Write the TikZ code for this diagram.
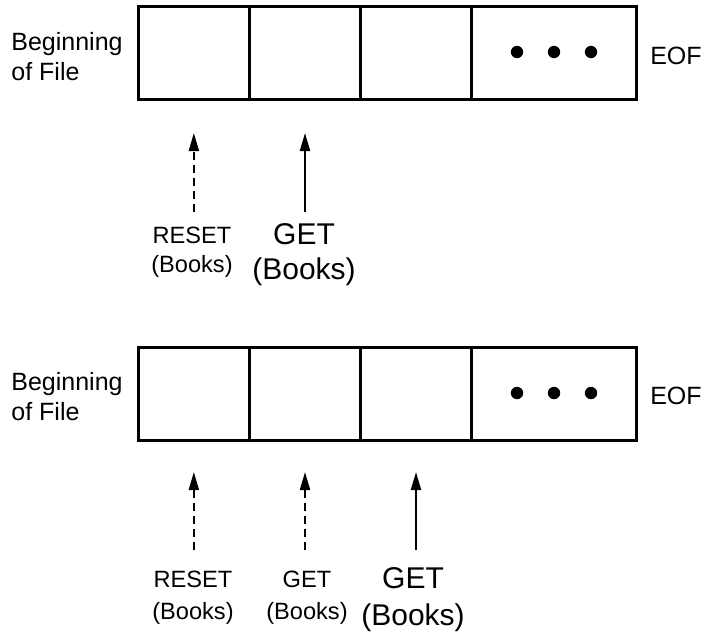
\documentclass[tikz,border=0pt]{standalone}
\usepackage{fontspec}
\setmainfont{Liberation Sans}
\usetikzlibrary{arrows.meta}
\tikzset{
  cell/.style={draw, line width=1.5pt, minimum height=46.5pt, inner sep=0pt, anchor=north west},
  side/.style={inner sep=0pt, font=\fontsize{12.5}{15}\selectfont},
  small/.style={inner sep=0pt, align=center, font=\fontsize{11.8}{14.5}\selectfont},
  smallb/.style={small, font=\fontsize{11.8}{16}\selectfont},
  large/.style={inner sep=0pt, align=center, font=\fontsize{15}{17.5}\selectfont},
  largeb/.style={large, font=\fontsize{15}{18.5}\selectfont},
  ptr/.style={line width=1pt, -{Triangle[length=9pt,width=5pt]}},
  dptr/.style={ptr, dash pattern=on 4pt off 2.5pt},
  dot/.style={circle, fill, inner sep=0pt, minimum size=6.2pt},
}
\begin{document}
\begin{tikzpicture}[x=0.5pt, y=-0.5pt]
\useasboundingbox (0,0) rectangle (706,632);
% ---------- top file ----------
\node[cell, minimum width=55.65pt] (a1) at (136.7,5) {};
\node[cell, minimum width=55.5pt] (a2) at (248,5) {};
\node[cell, minimum width=55.5pt] (a3) at (359,5) {};
\node[cell, minimum width=82.5pt] (a4) at (470,5) {};
\node[dot] (ad1) at (517,52) {};
\node[dot] (ad2) at (554,52) {};
\node[dot] (ad3) at (591,52) {};
\node[side, align=left, anchor=west] (abeg) at (11,57) {Beginning\\of File};
\node[side] (aeof) at (676,56) {EOF};
\node[small] (al1) at (192,252) {RESET\\(Books)};
\node[large] (al2) at (304,255) {GET\\(Books)};
\coordinate (at1) at (192,212);
\coordinate (at2) at (304,212);
\draw[dptr] (a1.south |- at1) -- ([yshift=-16pt]a1.south);
\draw[ptr] (a2.south |- at2) -- ([yshift=-16pt]a2.south);
% ---------- bottom file ----------
\node[cell, minimum width=55.65pt] (b1) at (136.7,346) {};
\node[cell, minimum width=55.5pt] (b2) at (248,346) {};
\node[cell, minimum width=55.5pt] (b3) at (359,346) {};
\node[cell, minimum width=82.5pt] (b4) at (470,346) {};
\node[dot] (bd1) at (517,393) {};
\node[dot] (bd2) at (554,393) {};
\node[dot] (bd3) at (591,393) {};
\node[side, align=left, anchor=west] (bbeg) at (11,397) {Beginning\\of File};
\node[side] (beof) at (676,396) {EOF};
\node[smallb] (bl1) at (193,598) {RESET\\(Books)};
\node[smallb] (bl2) at (307,598) {GET\\(Books)};
\node[largeb] (bl3) at (413,600) {GET\\(Books)};
\coordinate (bt1) at (193,550);
\coordinate (bt2) at (307,550);
\coordinate (bt3) at (413,550);
\draw[dptr] (b1.south |- bt1) -- ([yshift=-15pt]b1.south);
\draw[dptr] (b2.south |- bt2) -- ([yshift=-15pt]b2.south);
\draw[ptr] (b3.south |- bt3) -- ([yshift=-15pt]b3.south);
\end{tikzpicture}
\end{document}
